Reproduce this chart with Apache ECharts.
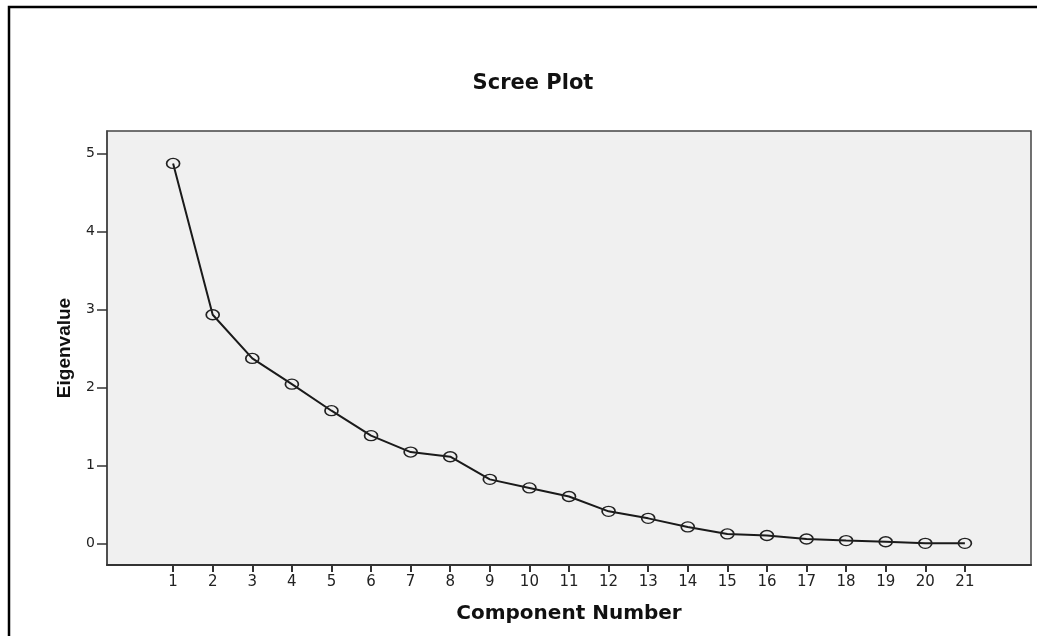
<!DOCTYPE html>
<html>
<head>
<meta charset="utf-8">
<script src="https://cdn.jsdelivr.net/npm/echarts@6/dist/echarts.min.js"></script>
<style>
html,body{margin:0;padding:0;background:#fff;}
#chart{width:1037px;height:636px;}
</style>
</head>
<body>
<div id="chart"></div>
<script>
const titleText = 'Scree Plot';
const xAxisName = 'Component Number';
const yAxisName = 'Eigenvalue';
const components = [1,2,3,4,5,6,7,8,9,10,11,12,13,14,15,16,17,18,19,20,21];
const eigenvalues = [4.87,2.93,2.37,2.04,1.70,1.38,1.17,1.11,0.82,0.71,0.60,0.41,0.32,0.21,0.12,0.10,0.055,0.035,0.02,0.0,0.0];
const yTicks = [0,1,2,3,4,5];
const xTicks = components;

const seriesData = components.map((c, i) => [c, eigenvalues[i]]);

const chart = echarts.init(document.getElementById('chart'), null, {renderer: 'canvas'});
chart.setOption({
  animation: false,
  backgroundColor: '#ffffff',
  title: {
    text: titleText,
    left: 533,
    top: 73,
    textAlign: 'center',
    padding: 0,
    textStyle: {fontFamily: 'DejaVu Sans', fontWeight: 'bold', fontSize: 21, color: '#111'}
  },
  graphic: [{
    type: 'rect',
    shape: {x: 9, y: 7, width: 1100, height: 700},
    style: {fill: 'none', stroke: '#000', lineWidth: 2.5},
    silent: true,
    z: 100
  }],
  grid: {
    left: 107, top: 131, right: 6, bottom: 71,
    show: true,
    backgroundColor: '#f0f0f0',
    borderColor: '#444',
    borderWidth: 1.5
  },
  xAxis: {
    type: 'value',
    position: 'bottom',
    min: -0.67,
    max: 22.67,
    name: xAxisName,
    nameLocation: 'middle',
    nameGap: 39,
    nameTextStyle: {fontFamily: 'DejaVu Sans', fontWeight: 'bold', fontSize: 20, color: '#111'},
    axisLine: {show: true, onZero: false, lineStyle: {color: '#333', width: 2}},
    splitLine: {show: false},
    axisTick: {show: true, inside: false, length: 7, customValues: xTicks, lineStyle: {color: '#333', width: 2}},
    axisLabel: {customValues: xTicks, margin: 10, fontFamily: 'DejaVu Sans', fontSize: 15, color: '#222'}
  },
  yAxis: {
    type: 'value',
    position: 'left',
    min: -0.278,
    max: 5.286,
    name: yAxisName,
    nameLocation: 'middle',
    nameRotate: 90,
    nameGap: 33,
    nameTextStyle: {fontFamily: 'Liberation Sans', fontWeight: 'bold', fontSize: 19, color: '#111'},
    axisLine: {show: true, onZero: false, lineStyle: {color: '#444', width: 1.5}},
    splitLine: {show: false},
    axisTick: {show: true, inside: false, length: 10, customValues: yTicks, lineStyle: {color: '#333', width: 1.5}},
    axisLabel: {customValues: yTicks, margin: 12, fontFamily: 'DejaVu Sans', fontSize: 14, color: '#222'}
  },
  series: [{
    type: 'line',
    data: seriesData,
    symbol: 'circle',
    symbolSize: [13, 10],
    lineStyle: {color: '#1a1a1a', width: 2},
    itemStyle: {color: 'rgba(0,0,0,0)', borderColor: '#222', borderWidth: 1.5},
    emphasis: {disabled: true}
  }]
});
</script>
</body>
</html>
